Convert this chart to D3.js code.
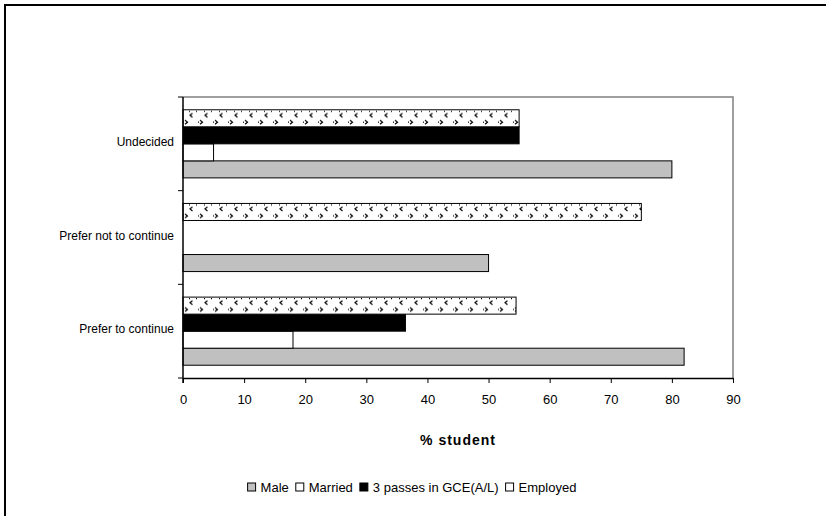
<!DOCTYPE html>
<html>
<head>
<meta charset="utf-8">
<script src="https://cdn.jsdelivr.net/npm/d3@7"></script>
<style>
  html, body { margin: 0; padding: 0; background: #fff; }
  svg { display: block; font-family: "Liberation Sans", Arial, sans-serif; }
</style>
</head>
<body>
<svg id="chart" width="826" height="516"></svg>
<script>
// Responses by category, percentage of students
const categories = ["Undecided", "Prefer not to continue", "Prefer to continue"];
const seriesNames = ["Male", "Married", "3 passes in GCE(A/L)", "Employed"];
const male = [80, 50, 82];
const married = [5, 0, 18];
const passes = [55, 0, 36.4];
const employed = [55, 75, 54.5];
const xTicks = [0, 10, 20, 30, 40, 50, 60, 70, 80, 90];

const seriesValues = {
  "Male": male,
  "Married": married,
  "3 passes in GCE(A/L)": passes,
  "Employed": employed
};
const fills = {
  "Male": "#c0c0c0",
  "Married": "#ffffff",
  "3 passes in GCE(A/L)": "#000000"
};

const svg = d3.select("#chart");
const plot = { left: 183, right: 733, top: 97, bottom: 378 };

const x = d3.scaleLinear().domain([0, 90]).range([plot.left, plot.right]);
const y = d3.scaleBand().domain(categories).range([plot.top, plot.bottom]).padding(0);
const inner = d3.scaleBand()
  .domain(["Employed", "3 passes in GCE(A/L)", "Married", "Male"])
  .range([0, y.bandwidth()])
  .paddingInner(0).paddingOuter(0.75);

// Employed hatch: rows of small "<" and ">" marks, one pattern per bar row
const defs = svg.append("defs");
categories.forEach((c, i) => {
  const p = defs.append("pattern")
    .attr("id", "chev" + i)
    .attr("patternUnits", "userSpaceOnUse")
    .attr("width", 15).attr("height", inner.bandwidth())
    .attr("x", plot.left).attr("y", y(c) + inner("Employed"));
  p.append("rect").attr("width", 15).attr("height", inner.bandwidth()).attr("fill", "#fff");
  p.append("path")
    .attr("d", "M9.5,3.5 L7,5.5 L9.5,7.5 M2,10.5 L4.5,12.5 L2,14.5 M0,12.5 h1 M13,1.5 h1 M6,1.5 h1")
    .attr("stroke", "#000").attr("stroke-width", 1.2).attr("fill", "none");
});

// Outer frame
svg.append("path")
  .attr("d", "M5,516 V5 H826")
  .attr("fill", "none").attr("stroke", "#000").attr("stroke-width", 2);

// Plot-area border (top and right in grey)
svg.append("path")
  .attr("d", `M${plot.left},${plot.top} H${plot.right} V${plot.bottom}`)
  .attr("fill", "none").attr("stroke", "#808080").attr("stroke-width", 1.5);

// Bars
const barData = [];
categories.forEach((c, i) => {
  seriesNames.forEach(s => {
    barData.push({ cat: c, idx: i, series: s, value: seriesValues[s][i] });
  });
});

svg.append("g").selectAll("rect")
  .data(barData.filter(d => d.value > 0))
  .join("rect")
  .attr("x", x(0))
  .attr("y", d => y(d.cat) + inner(d.series))
  .attr("width", d => x(d.value) - x(0))
  .attr("height", inner.bandwidth())
  .attr("fill", d => d.series === "Employed" ? `url(#chev${d.idx})` : fills[d.series])
  .attr("stroke", "#000")
  .attr("stroke-width", 1);

// X axis
const xAxis = svg.append("g")
  .attr("transform", `translate(0,${plot.bottom})`)
  .call(d3.axisBottom(x).tickValues(xTicks).tickSize(5).tickPadding(12).tickSizeOuter(0));
xAxis.select(".domain").attr("stroke", "#000").attr("stroke-width", 1.5);
xAxis.selectAll(".tick line").attr("stroke", "#000");
xAxis.selectAll("text").attr("font-size", 13).attr("fill", "#000")
  .attr("font-family", "'Liberation Sans', Arial, sans-serif");

// Y axis
const yEdges = [plot.top, ...categories.map(c => y(c) + y.bandwidth())];
const yAxis = svg.append("g").attr("transform", `translate(${plot.left},0)`);
yAxis.append("line")
  .attr("x1", 0).attr("x2", 0).attr("y1", plot.top).attr("y2", plot.bottom + 5)
  .attr("stroke", "#000").attr("stroke-width", 1.5);
yAxis.selectAll("line.tk").data(yEdges).join("line").attr("class", "tk")
  .attr("x1", -5).attr("x2", 0).attr("y1", d => d).attr("y2", d => d)
  .attr("stroke", "#000");
yAxis.selectAll("text").data(categories).join("text")
  .attr("x", -9)
  .attr("y", d => y(d) + y.bandwidth() / 2 - 2)
  .attr("dy", "0.35em")
  .attr("text-anchor", "end")
  .attr("font-size", 12)
  .text(d => d);

// Axis title
svg.append("text")
  .attr("x", (plot.left + plot.right) / 2)
  .attr("y", 445)
  .attr("text-anchor", "middle")
  .attr("font-size", 14)
  .attr("font-weight", "bold")
  .attr("letter-spacing", 1)
  .text("% student");

// Legend, laid out left to right then centred
const legend = svg.append("g");
let lx = 0;
const ly = 487;
seriesNames.forEach(s => {
  legend.append("rect")
    .attr("x", lx).attr("y", ly - 4)
    .attr("width", 8).attr("height", 8)
    .attr("fill", s === "Employed" ? "#fff" : fills[s])
    .attr("stroke", "#000").attr("stroke-width", 1);
  const t = legend.append("text")
    .attr("x", lx + 13).attr("y", ly)
    .attr("dy", "0.35em")
    .attr("font-size", 13)
    .text(s);
  lx += 13 + t.node().getComputedTextLength() + 7;
});
const legendWidth = lx - 7;
legend.attr("transform", `translate(${412 - legendWidth / 2},0)`);
</script>
</body>
</html>
